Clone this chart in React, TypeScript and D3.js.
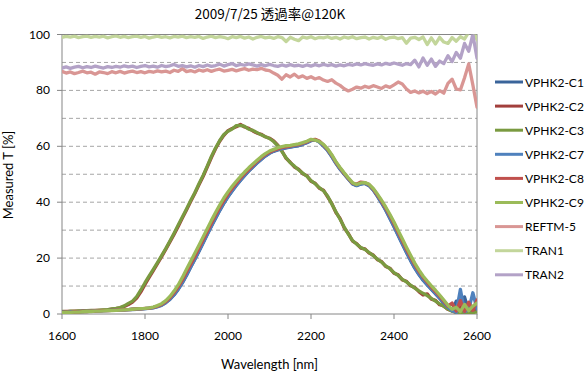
import React from 'react';
import * as d3 from 'd3';

const wavelengths = [
  1600, 1610, 1620, 1630, 1640, 1650, 1660, 1670, 1680, 1690,
  1700, 1710, 1720, 1730, 1740, 1750, 1760, 1770, 1780, 1790,
  1800, 1810, 1820, 1830, 1840, 1850, 1860, 1870, 1880, 1890,
  1900, 1910, 1920, 1930, 1940, 1950, 1960, 1970, 1980, 1990,
  2000, 2010, 2020, 2030, 2040, 2050, 2060, 2070, 2080, 2090,
  2100, 2110, 2120, 2130, 2140, 2150, 2160, 2170, 2180, 2190,
  2200, 2210, 2220, 2230, 2240, 2250, 2260, 2270, 2280, 2290,
  2300, 2310, 2320, 2330, 2340, 2350, 2360, 2370, 2380, 2390,
  2400, 2410, 2420, 2430, 2440, 2450, 2460, 2470, 2480, 2490,
  2500, 2510, 2520, 2530, 2540, 2550, 2560, 2570, 2580, 2590,
  2600,
];

const seriesNames = [
  'VPHK2-C1', 'VPHK2-C2', 'VPHK2-C3', 'VPHK2-C7', 'VPHK2-C8', 'VPHK2-C9',
  'REFTM-5', 'TRAN1', 'TRAN2',
];

const vphkC1 = [
  0.6, 0.7, 0.7, 0.8, 0.8, 0.9, 1.0, 1.0, 1.1, 1.1,
  1.2, 1.3, 1.3, 1.4, 1.5, 1.5, 1.6, 1.7, 1.7, 1.8,
  1.9, 2.1, 2.3, 2.6, 3.2, 4.1, 5.2, 6.8, 8.8, 11.1,
  13.8, 16.7, 19.5, 22.4, 25.4, 28.4, 31.4, 34.2, 37.0, 39.6,
  41.9, 44.0, 46.0, 47.8, 49.5, 51.1, 52.6, 54.0, 55.3, 56.5,
  57.5, 58.2, 58.7, 59.1, 59.4, 59.7, 60.0, 60.2, 60.7, 61.3,
  62.0, 62.3, 61.5, 60.1, 58.5, 56.3, 53.9, 51.8, 50.0, 48.2,
  46.5, 45.9, 46.5, 46.7, 45.9, 44.3, 42.1, 39.7, 37.1, 34.2,
  31.2, 28.1, 25.0, 22.0, 19.1, 16.4, 14.1, 12.1, 10.4, 8.8,
  7.2, 5.6, 3.9, 2.3, 1.1, 4.6, 0.7, 6.1, 0.9, 2.2,
  3.4,
];

const vphkC2 = [
  0.8, 0.9, 0.9, 1.0, 1.0, 1.1, 1.1, 1.2, 1.3, 1.3,
  1.4, 1.5, 1.7, 1.9, 2.2, 2.7, 3.4, 4.3, 5.7, 7.9,
  10.6, 13.1, 15.5, 18.0, 20.5, 23.1, 25.8, 28.5, 31.3, 34.3,
  37.2, 40.2, 43.1, 46.2, 49.2, 52.6, 56.0, 59.1, 61.8, 63.9,
  65.6, 66.4, 67.0, 67.8, 66.9, 66.4, 65.5, 64.7, 64.3, 63.4,
  62.9, 61.9, 60.4, 58.3, 55.7, 54.3, 52.6, 51.8, 50.2, 49.5,
  47.5, 46.8, 45.0, 44.3, 41.9, 39.6, 36.3, 34.2, 30.8, 28.8,
  26.1, 25.2, 23.6, 23.3, 21.8, 21.1, 19.4, 18.8, 17.0, 16.4,
  14.6, 14.0, 12.2, 11.7, 10.1, 9.5, 8.0, 6.8, 7.2, 5.3,
  4.9, 3.3, 2.9, 1.6, 1.2, 0.5, 2.8, 0.4, 3.6, 0.6,
  2.4,
];

const vphkC3 = [
  0.9, 0.8, 1.0, 0.9, 1.1, 1.0, 1.2, 1.3, 1.2, 1.4,
  1.5, 1.6, 1.8, 2.0, 2.3, 2.9, 3.8, 4.6, 6.2, 8.6,
  11.2, 13.6, 16.0, 18.4, 20.9, 23.4, 26.1, 28.9, 31.8, 34.7,
  37.6, 40.6, 43.4, 46.6, 49.6, 52.9, 56.4, 59.4, 62.1, 64.2,
  65.4, 66.2, 67.4, 67.5, 67.1, 66.1, 65.7, 64.9, 64.1, 63.4,
  62.8, 61.7, 60.2, 58.1, 55.9, 54.1, 52.9, 51.6, 50.4, 49.3,
  47.7, 46.6, 45.2, 44.1, 42.2, 39.4, 36.6, 33.9, 31.1, 28.6,
  26.3, 25.0, 23.8, 23.1, 22.0, 20.9, 19.6, 18.6, 17.2, 16.2,
  14.8, 13.8, 12.4, 11.5, 10.3, 9.3, 8.3, 7.4, 6.6, 5.6,
  4.6, 3.6, 2.7, 1.8, 1.0, 0.7, 0.4, 0.6, 0.3, 0.5,
  0.8,
];

const vphkC7 = [
  0.7, 0.6, 0.8, 0.7, 0.8, 0.9, 0.9, 1.0, 1.1, 1.0,
  1.2, 1.2, 1.3, 1.4, 1.4, 1.5, 1.6, 1.6, 1.7, 1.8,
  1.9, 2.0, 2.2, 2.6, 3.1, 4.0, 5.3, 6.9, 8.9, 11.3,
  14.0, 16.8, 19.6, 22.6, 25.5, 28.5, 31.5, 34.4, 37.1, 39.7,
  42.0, 44.1, 46.1, 47.9, 49.6, 51.2, 52.7, 54.1, 55.4, 56.6,
  57.6, 58.3, 58.8, 59.2, 59.5, 59.8, 60.1, 60.3, 60.8, 61.4,
  62.1, 62.4, 61.6, 60.2, 58.6, 56.4, 54.0, 51.9, 50.1, 48.3,
  46.6, 46.0, 46.6, 46.8, 46.0, 44.4, 42.3, 39.9, 37.3, 34.4,
  31.4, 28.3, 25.2, 22.2, 19.3, 16.6, 14.3, 12.3, 10.6, 9.0,
  7.4, 5.8, 4.1, 2.4, 1.2, 0.6, 8.8, 0.8, 1.5, 7.6,
  1.8,
];

const vphkC8 = [
  0.6, 0.7, 0.6, 0.8, 0.7, 0.9, 0.9, 1.0, 1.0, 1.1,
  1.2, 1.2, 1.3, 1.4, 1.5, 1.5, 1.6, 1.7, 1.8, 1.8,
  2.0, 2.1, 2.4, 2.8, 3.4, 4.4, 5.8, 7.6, 9.7, 12.2,
  15.0, 17.8, 20.6, 23.6, 26.6, 29.5, 32.5, 35.4, 38.1, 40.6,
  42.9, 44.9, 46.8, 48.6, 50.2, 51.7, 53.2, 54.6, 55.9, 57.0,
  57.9, 58.6, 59.1, 59.6, 59.8, 60.1, 60.4, 60.6, 61.1, 61.6,
  62.3, 62.5, 61.9, 60.5, 58.9, 56.8, 54.3, 52.2, 50.3, 48.5,
  46.8, 46.4, 47.2, 47.0, 46.3, 44.7, 42.6, 40.4, 37.9, 35.2,
  32.3, 29.2, 26.2, 23.2, 20.3, 17.6, 15.3, 13.2, 11.4, 9.6,
  8.0, 6.4, 4.6, 2.8, 3.9, 1.1, 4.8, 0.9, 4.2, 1.3,
  5.0,
];

const vphkC9 = [
  0.5, 0.6, 0.6, 0.7, 0.7, 0.8, 0.9, 0.9, 1.0, 1.0,
  1.1, 1.2, 1.2, 1.3, 1.4, 1.5, 1.6, 1.7, 1.8, 1.9,
  2.0, 2.2, 2.5, 3.0, 3.7, 4.8, 6.3, 8.2, 10.4, 13.1,
  16.0, 18.9, 21.7, 24.6, 27.6, 30.5, 33.5, 36.3, 39.0, 41.5,
  43.7, 45.7, 47.5, 49.2, 50.8, 52.3, 53.7, 55.0, 56.3, 57.4,
  58.3, 58.9, 59.5, 59.9, 60.2, 60.3, 60.6, 60.9, 61.3, 61.8,
  62.5, 62.2, 61.7, 60.7, 59.1, 57.0, 54.5, 52.4, 50.5, 48.7,
  47.0, 46.3, 46.9, 47.0, 46.4, 44.9, 42.9, 40.7, 38.3, 35.7,
  32.9, 29.9, 26.9, 23.9, 21.0, 18.2, 15.8, 13.6, 11.8, 10.1,
  8.5, 6.8, 5.0, 3.1, 1.7, 2.4, 0.9, 3.4, 1.2, 2.8,
  3.9,
];

const refTM5 = [
  86.8, 86.2, 86.6, 86.0, 86.4, 86.9, 86.3, 86.5, 85.8, 86.6,
  86.4, 86.0, 86.7, 86.3, 86.8, 86.2, 86.6, 86.9, 86.4, 86.7,
  86.3, 86.8, 86.5, 87.0, 86.6, 86.9, 86.4, 87.2, 86.8, 87.8,
  86.7, 87.1, 86.6, 87.3, 86.9, 87.4, 86.8, 87.3, 87.6, 86.9,
  87.2, 87.5, 87.0, 87.4, 87.8, 87.2, 87.6, 87.4, 87.9, 87.3,
  87.1, 86.2, 85.4, 84.0, 85.6, 84.8, 85.8, 84.6, 85.2, 84.3,
  84.9, 84.1, 84.6, 83.7, 83.2, 83.8, 82.6, 81.8, 80.6, 79.8,
  80.4, 81.2, 80.8, 81.5, 81.0, 81.7, 81.2, 80.7, 81.6, 81.1,
  82.0, 83.0, 82.3, 80.5, 79.3, 79.8, 79.1, 79.7, 78.9, 79.6,
  78.7, 79.9, 79.0, 82.5, 84.0, 80.5, 80.2, 84.5, 89.5, 82.0,
  74.0,
];

const tran1 = [
  99.0, 99.3, 99.1, 99.4, 98.9, 99.2, 99.4, 99.0, 99.3, 99.1,
  99.4, 98.8, 99.2, 99.5, 99.0, 99.3, 98.9, 99.2, 99.4, 99.0,
  99.3, 98.7, 99.1, 99.4, 99.0, 99.2, 98.8, 99.3, 99.1, 99.4,
  98.9, 99.2, 99.0, 99.3, 98.6, 99.1, 99.4, 98.9, 99.2, 99.0,
  98.5, 99.2, 98.9, 99.3, 98.7, 99.1, 98.4, 99.0, 99.3, 98.8,
  99.1, 98.6, 99.2, 98.9, 97.5, 99.0, 98.3, 97.8, 99.1, 98.7,
  99.2, 98.5, 99.0, 98.8, 99.2, 98.6, 99.0, 98.4, 99.1, 98.7,
  99.2, 98.5, 98.9, 99.1, 98.4, 99.0, 98.6, 99.2, 98.3, 98.9,
  99.1, 98.5, 98.9, 96.9, 98.7, 99.0, 98.2, 99.1, 96.4, 98.8,
  96.6, 99.0, 97.3, 96.8, 98.9, 97.6, 99.2, 98.4, 100.8, 101.5,
  98.2,
];

const tran2 = [
  88.0, 88.4, 87.9, 88.3, 88.6, 88.1, 88.5, 88.2, 88.7, 88.3,
  88.0, 88.5, 88.2, 88.6, 88.3, 88.8, 88.4, 88.7, 88.2, 88.6,
  88.9, 88.4, 88.7, 88.3, 88.9, 88.5, 88.8, 89.3, 88.6, 88.9,
  88.4, 88.8, 88.3, 88.9, 88.5, 89.1, 88.6, 88.9, 89.4, 88.7,
  89.2, 89.6, 88.8, 89.3, 89.0, 89.5, 89.1, 88.7, 89.2, 88.8,
  89.3, 88.9, 88.6, 89.1, 88.7, 89.2, 88.8, 89.0, 88.6, 89.1,
  88.7, 89.2, 88.8, 89.3, 88.9, 89.2, 88.7, 89.1, 88.8, 89.3,
  89.0, 89.5, 89.1, 89.6, 89.2, 89.0, 89.5, 89.1, 89.7, 89.3,
  89.8, 89.4, 89.0, 89.6, 89.2, 90.8, 88.4, 91.6, 89.0, 91.2,
  88.6, 90.5, 89.6, 92.4, 90.3, 93.6, 91.5, 96.8, 94.0, 100.0,
  91.5,
];

const seriesValues = [vphkC1, vphkC2, vphkC3, vphkC7, vphkC8, vphkC9, refTM5, tran1, tran2];

const xTicks = [1600, 1800, 2000, 2200, 2400, 2600];
const yTicks = [0, 20, 40, 60, 80, 100];
const yGrid = [10, 20, 30, 40, 50, 60, 70, 80, 90];

const COLORS = [
  '#3A649A', '#A23F3C', '#7A9A40', '#4F81BD', '#C0504D', '#9BBB59',
  '#D99694', '#C3D69B', '#B3A2C7',
];

export default function App() {
  const W = 586;
  const H = 376;
  const left = 62, right = 477, top = 34.5, bottom = 314;
  const x = d3.scaleLinear().domain([1600, 2600]).range([left, right]);
  const y = d3.scaleLinear().domain([0, 100]).range([bottom, top]);
  const line = d3
    .line<number>()
    .x((_, i) => x(wavelengths[i]))
    .y((d) => y(d));

  const font = "Lato, 'Liberation Sans', 'Noto Sans CJK JP', sans-serif";
  const axisColor = '#868686';

  return (
    <svg
      width={W}
      height={H}
      style={{ position: 'absolute', left: 0, top: 0, display: 'block' }}
      fontFamily={font}
    >
      <rect x={0} y={0} width={W} height={H} fill="#ffffff" />
      <defs>
        <clipPath id="plotClip">
          <rect x={left} y={top} width={right - left} height={bottom - top} />
        </clipPath>
      </defs>

      <text
        x={270}
        y={19}
        textAnchor="middle"
        fontSize={13.5}
        fill="#000"
        fontFamily="'Noto Sans CJK JP', Lato, sans-serif"
      >
        2009/7/25 透過率@120K
      </text>

      {yGrid.map((v) => (
        <line
          key={'g' + v}
          x1={left}
          x2={right}
          y1={y(v)}
          y2={y(v)}
          stroke="#A6A6A6"
          strokeWidth={1}
          strokeDasharray="4,3"
        />
      ))}

      <rect
        x={left}
        y={top}
        width={right - left}
        height={bottom - top}
        fill="none"
        stroke={axisColor}
        strokeWidth={1}
      />

      {xTicks.map((v) => (
        <g key={'xt' + v}>
          <line x1={x(v)} x2={x(v)} y1={bottom} y2={bottom + 5} stroke={axisColor} />
          <text x={x(v)} y={340} textAnchor="middle" fontSize={12} fill="#000">
            {v}
          </text>
        </g>
      ))}
      {yTicks.map((v) => (
        <g key={'yt' + v}>
          <line x1={left - 5} x2={left} y1={y(v)} y2={y(v)} stroke={axisColor} />
          <text x={50} y={y(v) + 4} textAnchor="end" fontSize={12} fill="#000">
            {v}
          </text>
        </g>
      ))}

      <g clipPath="url(#plotClip)">
        {seriesValues.map((vals, i) => (
          <path
            key={'s' + i}
            d={line(vals) || ''}
            fill="none"
            stroke={COLORS[i]}
            strokeWidth={3.3}
            strokeLinejoin="round"
            strokeLinecap="round"
          />
        ))}
      </g>

      <text x={269.5} y={369} textAnchor="middle" fontSize={13} fill="#000">
        Wavelength [nm]
      </text>
      <text
        transform={`translate(13,175) rotate(-90)`}
        textAnchor="middle"
        fontSize={13}
        fill="#000"
      >
        Measured T [%]
      </text>

      {seriesNames.map((name, i) => {
        const ly = 82 + i * 24.1;
        return (
          <g key={'l' + i}>
            <line x1={495} x2={523} y1={ly} y2={ly} stroke={COLORS[i]} strokeWidth={3} />
            <text x={525} y={ly + 4.5} fontSize={12} fill="#000">
              {name}
            </text>
          </g>
        );
      })}
    </svg>
  );
}
